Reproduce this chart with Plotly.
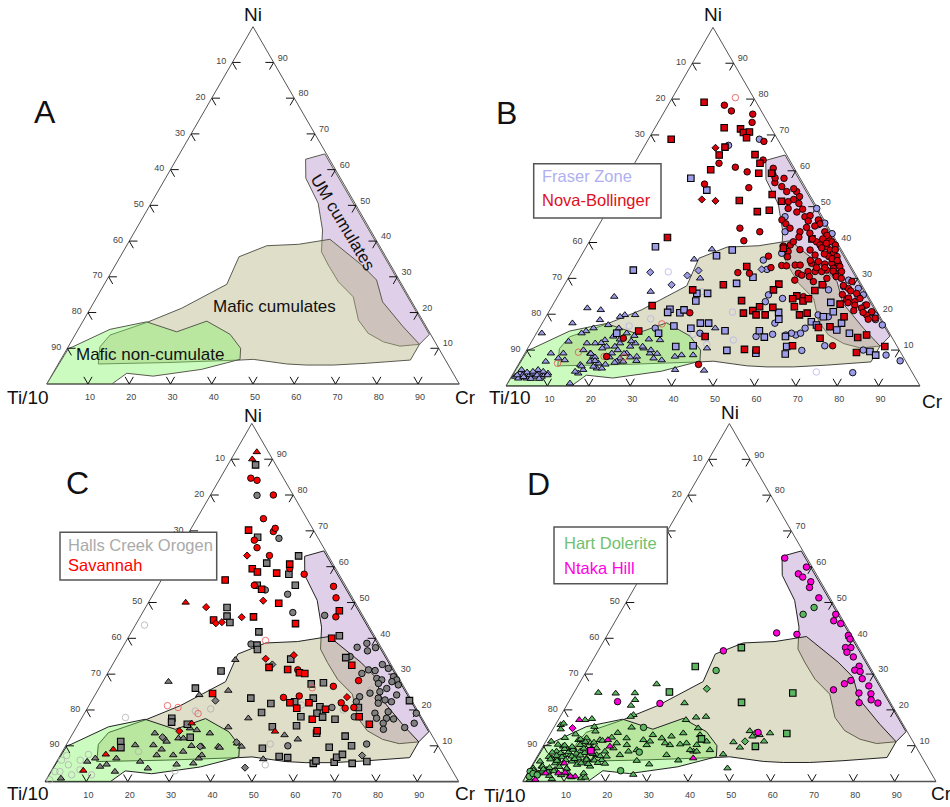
import plotly.graph_objects as go

W, H = 950, 807
TICKS = [10, 20, 30, 40, 50, 60, 70, 80, 90]

# Region polygons: Ni and Cr percentages (Ti/10 is the remainder)
um_ni = [64.4, 62.9, 57.6, 50.6, 43.1, 37, 33.3, 28.6, 24.4, 17.9, 14.2, 11.8, 10.6, 11.1, 13.9, 64.4]
um_cr = [35.2, 31.3, 34, 40.5, 45.3, 48.1, 51.6, 56.4, 62.1, 66.6, 70.8, 75.7, 80.3, 84.8, 85.8, 35.2]
mc_ni = [5.6, 10.4, 13.7, 17.2, 21.2, 27.9, 35.6, 38.7, 39.1, 40.5, 33.3, 29.1, 23, 16, 11.1, 6.7, 5.8, 5.3, 5.3, 5.6, 6.9, 6.7, 6, 5.6]
mc_cr = [9.7, 7.7, 8.5, 15.6, 22.1, 29.7, 28.8, 34, 41.5, 48.4, 59.7, 65.4, 69.9, 78.4, 84.8, 84.8, 74.6, 66.8, 60.4, 55.4, 46.6, 43.5, 26.1, 9.7]
nc_ni = [0, 10, 10.4, 15.3, 17.4, 14.6, 17.6, 13.9, 10, 6.9, 4.1, 2.2, 3, 0, 0]
nc_cr = [0, 0.3, 1.1, 7.7, 15.5, 24.2, 30, 37.5, 42, 43.4, 35.5, 24.7, 17.9, 15.8, 0]

# Panel B
b_red_circle_ni = [78.3,76.7,75.8,73.5,68.2,63,62.1,61,59.7,60.7,56.3,55.3,44,43,40.5,59.1,56.7,57.9,55.6,54.2,54.2,52.8,51.4,50.9,49.3,49.5,47.2,47.5,46.3,45.2,44.6,46.3,45.2,44,43,42.6,43,41.2,40.2,39.3,38.8,40.2,39.3,37.9,37,36.1,36.1,34.2,34.2,32.3,32.8,33.3,31.9,31.4,29.1,27.2,25.8,24,23.5,24.4,22.6,21.7,20.7,19.8,18.9,18.6,37.9,36.5,34.7,34.2,31.9,31.9,31.9,33.7,33.7,31.4,30.9,36.2,33.6,33,31.6,31.4,39.3,40.2,37.5,29.1,24.9,28.2,20.4,6,13.3,8.2,11.2,42,41,39.8,38.5,38,36.8,35.5,35,34,33,32,30.5,30,30,28,26.5,25.5,24.5,23.2,22.5,21,20.5,35,33,30.5,29.5,33.5,41.5,39,38,46,44.2,41,48.5,52,55,58,36]
b_red_circle_cr = [13.6,16.1,21.7,22.7,28.2,30.6,20.4,24.9,28.4,34.2,19.8,31,34.5,39.8,37.2,34.9,36.6,38.2,38.8,40.7,43.1,44.5,42.5,45.3,47,43.4,48.6,49.7,52.3,53.2,52.3,43.5,45,46.6,49.5,52.1,55.5,57.3,54.9,56.2,58.1,58.6,59.9,59.4,60.6,59.9,61.9,63.2,61.6,61.3,62.7,64,65.1,63.8,69,69.1,71.8,70.3,72.5,73.3,75.8,75,78,77.2,79.7,78.2,54.5,56.4,58.1,56.7,57,58.7,60.3,53,54.2,54.9,56,45.3,49.8,47.5,40.2,43.1,49,49.3,49.4,59.7,59.4,62.5,34.2,43.5,21.7,20.2,73.3,56.5,56,57.5,57,60.5,58.5,61,62.5,60,60.5,63,64.5,66,62.5,67.5,70,68.5,70.5,71,73,73.5,76,56,58.5,58,55,51,50,47.5,52,50,50.5,53.5,46,43.5,42,36,50]
b_red_square_ni = [79.1,72,71.7,70.7,70.8,69.2,68.8,66.6,64.4,64.5,62.1,60.3,59.3,59.3,53.4,51.7,48.6,49,51.5,41.4,38.4,33.3,28.2,28.4,26.8,28.2,26.6,25.1,24.3,23.7,24.3,26.8,23.8,22.4,22.1,21.9,22.1,20.3,21,19.8,19.8,19.8,20.3,22.8,19.3,16.3,16.5,14.2,13.5,13.3,11.2,10.2,10,9.3,11,13.8,15.3]
b_red_square_cr = [8.3,16.7,20.8,22,23.4,23.5,5.5,19.6,19.3,27.9,30.3,19.3,31.4,34.5,37.6,30.5,36.4,39.1,40.8,18.3,47.8,41.5,38.4,51.7,51.2,62.3,61.3,57.7,57.1,59.9,60.9,31.7,45,24.1,50.2,53.5,58.6,47.2,49.1,50.5,52.7,61,62.6,69.3,72,67.3,70,80,78.2,69.2,63.6,52.5,55.4,80,86,41.2,24.4]
b_blue_square_ni = [57.9,54.6,38.8,32.3,37.9,36.3,41,30.3,28.6,25.8,25.8,23.7,21.4,20.5,20.4,21.2,20.5,18.6,23.3,20.7,19.3,17.9,17,17.5,15.6,14.7,17.5,17.5,16.1,16.7,15.4,15.4,13.6,13.8,11,8.9,9.1,9.9,11,11.2,9.6,8.6,14.7,14.7]
b_blue_square_cr = [15.7,21.2,16.7,14.6,35.7,32.7,53.4,44.5,41.4,35.8,33.2,34,28.9,28.8,31.8,32.4,55.6,56.6,66.8,68.7,67,64.8,66.5,72.3,72.1,75.6,40.2,38.2,36.6,32.2,45.2,53.5,55.6,60.6,62.3,63,55.8,48.4,35.5,39.6,83.1,85,19.4,29.5]
b_blue_circle_ni = [68.8,67.1,49.5,45.4,42.6,47.2,43,37,35.1,32.5,24.4,25.4,23.5,17.5,14.4,13.8,14.2,14.2,14.7,16.1,14.7,9.9,11.2,3.7,7,8.6,10,17,19.8,25.4,27.2,27.7,26.8,19.8,19.3,16.1,14.7,33,29.5,25,22.5,20.5,18.5,45,38]
b_blue_circle_cr = [26.8,20.2,50.3,54.3,57.7,43.8,45.9,48.1,44.6,46.8,54.6,50.7,50.9,56.2,57.2,53.5,60.5,62.9,63.8,64.2,61.6,66.5,71.4,81.9,91.7,87.5,81.3,82.4,79.2,73.6,71.5,67.7,64.5,65.5,68.2,28,39.5,63.5,68,72.5,75.5,78,80,53,60.5]
b_blue_tri_ni = [24.9,21.7,21.2,26.3,35.3,19.8,19.8,19.3,18.4,17.5,17,14.7,15.3,16.1,12.4,9.1,6.8,2.6,3.5,3.1,2.1,2.1,3.1,2.6,3.5,2.6,3.1,4.5,3.5,3.5,4.5,0.7,9.1,7.2,7.7,5.9,4.5,3.5,4,6.8,8.2,6.3,4.9,9.1,11.9,10,14.7,11.9,12.8,11,9.1,11,11.9,7.7,9.1,11,11.9,8.2,10.5,9.1,7.7,7.2,12.8,13.8,14.7,16.1,8.2,8.6,8.6,4.5,4.3,10.5,4.9,5.4,6.8,6.8,38.1,30,16.1,12,10.5,9,8,7,5.5,6,8,10,13,9,6.5,11,8,7,12.5,10,9,14,13,3,2.5,3.8,4,2,3,2,4,3]
b_blue_tri_cr = [13.7,8.8,12.3,21.8,27.8,21.3,18.8,17.9,13.5,7.3,16.2,1.3,11.7,13.1,8.9,6.3,6.2,0.9,1.6,2.6,1.9,3.9,4.2,5.7,6.4,7.3,7.8,5.5,4.8,8.4,1.5,15.1,9.3,10.6,8.8,15,16.4,15.7,14.7,16.9,17,19.2,19.5,15.8,13.6,13.7,10.9,15.6,17.5,18.8,21,20.8,21.6,23.7,24.6,24.5,25.3,27.5,28,30.2,31.8,34,30.8,19,21.8,19.2,36.7,38.1,40.9,38.6,45.7,43.3,20.7,18.4,24.9,23.3,30.7,31.9,42.5,17,18,16,17.5,18,15.5,21,21,22,21,24,23,27.5,26,28,24,30,32,24,28,1.2,3,3.2,4.5,5,6,7,7,8.5]
b_blue_diamond_ni = [31.7,30.8,28.2,32.2,32.5]
b_blue_diamond_cr = [19,28.4,25.9,30.4,45.5]
b_blue_open_ni = [31.8,20.6,3.9,12.8,11.6,18.7,16.7,26.3,14.4]
b_blue_open_cr = [23.3,44.4,73,48.5,42.7,25.6,21.4,34.1,38]
b_red_open_ni = [80.4,17.3,9.4,6.3,8.2,8]
b_red_open_cr = [15.2,29,12.8,9.3,19.6,24.5]
b_red_diamond_ni = [66.4,52,51.6]
b_red_diamond_cr = [17.4,21.3,24.8]

# Panel C
c_red_circle_ni = [84.7,84.1,80,73.4,69.8,70.7,67.4,65.3,63.1,59.5,57.9,54.8,54.5,51.3,46,28.2,26.6,23.5,23.9,22,20.5,20.7,31.2]
c_red_circle_cr = [7.4,9.2,15.2,16.1,20.3,20.3,16.9,18.6,22.7,29.4,33.7,23.2,42.5,44.7,47.3,61.7,56.4,45.9,49.5,60.6,62.3,64.3,45.5]
c_red_square_ni = [70.2,56.3,59.4,58.5,58.2,60.7,53.7,49.8,46,45.1,44.1,47.7,40,32.5,31.9,31.3,30.4,30.2,24.6,22,20.5,22,20.2,17.4,14.2,18.1,16]
c_red_square_cr = [14.1,15.4,20.4,22.1,26.9,28.8,25.5,31.6,27.4,18.2,38.5,47.3,49.3,57.9,38.2,43,46.3,47.7,28.2,48.2,50.6,52.8,57.7,55.9,58.7,66.9,70.4]
c_gray_square_ni = [88.4,68.2,63,61,57.9,54.8,54.8,48.6,46.2,44.4,41.8,38.1,36.9,34.2,40.7,34.6,30.9,26.1,27.3,27.6,23.3,21.8,22.3,23.3,20.9,19.1,18,17.4,20.7,22.6,18.1,19.3,15.6,15.3,13.5,17.7,16.6,16,12.4,11.2,9.5,9.3,7,6.7,5.1,5.8,5.4,6.8,7.6,5.1,5.6,9.6,12.7,10]
c_gray_square_cr = [6.7,17.3,29.8,23.1,30,33.1,23.9,19.7,20.9,22.5,30.8,32.2,32.9,42.3,50.8,55.4,27.1,23.3,50.7,53.5,38.1,43.7,49.2,53.2,56,56.2,58.1,61.4,65.4,76.8,52.8,42.7,53,47.3,58.9,21.8,22.3,26.4,28.9,12.7,13.6,47.9,53.1,55.3,62.3,62.6,67.2,67.1,68.1,71.7,75,63.9,66.2,69.1]
c_gray_circle_ni = [79.9,67.9,53.5,52.3,47.2,38.4,46.4,37.5,38.6,37.4,36.5,34.9,32.7,31.6,31.2,31,30.2,28.8,28.4,29.3,28.4,27.9,27.4,26,27,24.7,25.1,23.7,23.3,22.8,22.3,24.2,21.9,22.3,18.1,19.1,19.5,17.7,17.7,17.5,16.3,14.6,15.1,16.3,19.1,20.7,10.5,10]
c_gray_circle_cr = [11.3,22.6,26.5,32.5,36.3,30.6,44.4,56.7,58.5,61.2,59.7,56.3,65.2,67.2,62.6,64.3,61.5,65.8,67.2,69.6,70.8,69.9,66.9,69.6,71.9,66.2,68.4,64.2,68.9,70.8,72.6,72.9,69.6,64.1,65.7,70.2,73.2,71.3,73.7,75.5,73.6,74.5,79.4,81.1,80.2,59,72.5,53.7]
c_gray_tri_ni = [27.9,34,25.4,24.2,17.7,15.2,13,11.8,6.3,10.7,9.8,13.5,9.8,9.8,14.9,14.4,13.5,12.1,12.1,10,10.2,10.2,9,11.2,7.4,7.4,8.4,6.5,7.4,4.8,5.1,3.7,2.8,5.6,6.5,5.6,6.5,4.2,4.8,0.9,9.5]
c_gray_tri_cr = [15.9,29,31.6,25.2,40.3,36.7,51.4,55.2,49.6,41.1,42.6,33.1,37,33,27.6,29.5,19.8,26.2,27.4,30.4,16.7,21.1,23.7,23.8,23.3,27.3,29.2,33.9,34.2,29.4,33.3,23,15.5,20.2,14,7.4,8.9,11.2,12.5,3.4,37.5]
c_gray_open_ni = [43.7,17.9,7.3,6,6,7.6,4.7,2.8,0.5,2.8,1.9,3.3,1.9,19.7,20.3,4.7,10.5,25.6,21.4,20,8.4,3]
c_gray_open_cr = [2.2,10.5,1.6,1,5.5,6.7,3.3,1,0.9,2.2,5.5,6.8,10.3,26.5,29.9,50.9,49.2,66,51.3,62.1,18.4,29.9]
c_red_open_ni = [39.4,21.2,20.7,19,26.2]
c_red_open_cr = [33.6,19,21.8,27.5,51.5]
c_red_tri_ni = [92,90,50,14,3.1,7.6,9,16.3]
c_red_tri_cr = [5.2,5.1,9,48.6,7.7,10.9,12,27.3]
c_red_diamond_ni = [63.1,48.7,45.9,44.2,44.5,50.5,34.3,35.3,23.6,14.1]
c_red_diamond_cr = [17.3,14.6,24.6,19.2,20.5,27.5,36.2,42.5,61.2,25.4]
c_gray_diamond_ni = [32.7,22.6,12.1,12.4,3.9,7.3,11,9.8]
c_gray_diamond_cr = [38.6,29.9,22.6,22.2,46.4,73,40.8,32.6]

# Panel D
d_mag_circle_ni = [62.4,59.9,58,57.1,55.8,54.2,51.3,46.7,44.9,44.1,40.8,39.8,37.4,37.4,36.1,34.8,32.2,31.1,30.7,28.7,28.2,27.3,26.7,25.6,24.5,24.7,22.8,22,21.9,41.5,41.1,36.5,21.8,22.3,13.7]
d_mag_circle_cr = [32.2,38.7,37.7,39.2,41.8,42.3,46,52.4,52.8,54.9,58.4,59.3,59.4,60.7,60.4,62.6,65.3,64.8,66.3,67.8,65.3,64.2,70.4,62.4,72,69,72.9,70.4,75,40.7,45.8,30.3,22.3,11.8,50.1]
d_mag_tri_ni = [17.2,11.6,9.8,6.5,5.1,2.3,2.3,2.5,1.4,0.5,1.4]
d_mag_tri_cr = [5.1,14.8,16.2,38,7.5,4.4,7.5,9,12,2.8,10.8]
d_mag_square_ni = [8.6]
d_mag_square_cr = [12.2]
d_mag_diamond_ni = [14.9]
d_mag_diamond_cr = [4.6]
d_green_circle_ni = [48.6,46.7,31,15.1,3,8.2,2.8,1.4,2.2,1.8]
d_green_circle_cr = [46.2,44.5,31.3,21.7,22.2,24.1,0.4,0.9,1.4,2.6]
d_green_square_ni = [37.4,32.1,25,22.1,24.7,13.4,9.8,11.9]
d_green_square_cr = [34.2,25.7,23,41.9,53,57.2,51.4,37.3]
d_green_diamond_ni = [25.9,11.2]
d_green_diamond_cr = [31.6,48.2]
d_green_tri_ni = [27.2,24.8,24.6,24.7,22.8,21.2,18.6,18.1,21.9,17.2,17.9,18.1,17.5,17.2,15.3,15.1,14.9,14.1,13.5,13,13.5,11.2,12.6,11,9.5,7.6,3.7,8.8,5.9,4.8,1.9,5.8,7.4,12.1,13,10.2,10.4,10.7,8.4,10.2,13,10.2,11.6,11.2,10.2,8.4,7.4,12.3,11.6,9.3,8.4,7.4,12.1,10.2,9.3,8.4,9.3,7.4,7.4,6.5,6.5,5.1,5.6,6.5,5.6,6,6,7,9.3,5.1,11.2,5.6,4.2,3.7,2.3,0.7,2.3,0.5,3.3,3.3,3.7,4.7,4.2,9.3,6.5,10.7,12.1,8.8,10.7,12.6,13.5,11.2,8.4,8.8,9.8,8.4,11.6,10.2,10.7,8.1,7.9,8.2,7.8,8,7.7,7.1,6.9,7.2,6.8,7,7.3,6.1,5.9,6.2,5.8,6,6.3,5.1,4.9,5.2,5,9.1,8.9,9.2,9,10.3,10.1,9.7,11.1,10.9,11.4,12.2,11.8,13.2,14,4.2,3.8,4.1,3.6,2.8,3.1,2.6,2.9,1.8,2.1,1.6,2.3,1.2,0.9,1.1,3.4,14.6,15.8,16.2,13.6]
d_green_tri_cr = [18.8,5.9,10.2,14.8,15.8,15.6,17.5,17.1,28.2,30.9,33,35.3,8,6.5,9.7,18.8,35,47.9,49.5,50.8,53.1,52.8,49.3,45.5,47.8,44.7,47.7,40.9,34.7,28.2,25.8,24.7,31.1,27.6,25,30.5,32.9,34.3,37.1,37,36.4,24.9,23.4,25.2,20.1,21.4,19.8,15.4,12.9,17.3,15.7,14.2,9.4,9.6,12,9.7,7.6,7.8,6.1,5,3.8,6.5,9.1,10.2,12.3,14.1,16.1,16.8,6,5.3,1.3,1.4,2.5,0.7,2.6,6.7,13.6,1.5,4.2,6.2,8.8,10.8,14.2,13.2,12.2,17.4,19.1,23.2,29.1,29.7,32.1,38.9,37.9,36.1,4.9,4,7.7,8.8,11,3.1,5.2,7,9.1,11,13.1,15.2,2.9,4.6,6.1,8.4,10.3,12.4,14.4,3.6,5.4,7.4,9.4,11.6,13.4,15.6,17.4,5.6,7.7,10.2,12.2,3.4,5.1,7.1,9.6,11.8,13.6,4.1,8.1,6.2,10.6,2.7,4.6,6.8,8.8,3.2,1.1,4.8,6.1,8.4,2.4,5.6,9.8,11.2,13.7,14.6,3.3,1.9,1.3,1.8,16.2,7.4,5.2,9.3,5.7]

BLUE, RED_B = "#9c9ce8", "#d8000c"
GRAY, RED_C = "#808080", "#ff0000"
GREEN, MAGENTA = "#5cb860", "#ff00d8"


def ti(ni, cr):
    return [max(0, round(100 - n - c, 2)) for n, c in zip(ni, cr)]


def region(ni, cr, fill, line, sub):
    return go.Scatterternary(a=ni, b=ti(ni, cr), c=cr, subplot=sub, mode="lines", fill="toself",
                             fillcolor=fill, line=dict(color=line, width=1), hoverinfo="skip", showlegend=False)


def series(ni, cr, symbol, color, sub):
    is_open = symbol.endswith("-open")
    size = {"square": 6.5, "diamond": 5.5, "triangle-up": 6.5}.get(symbol, 6.5)
    marker = dict(symbol=symbol, size=size, color=color,
                  line=dict(color=color if is_open else "#000000", width=0.8 if is_open else (1.1 if symbol == "square" else 0.9)))
    return go.Scatterternary(a=ni, b=ti(ni, cr), c=cr, subplot=sub, mode="markers", marker=marker,
                             cliponaxis=False, showlegend=False)


def tick_trace(sub, L=2.0):
    ni, cr = [], []
    for v in TICKS:
        # left edge, Ti/10 = v
        ni += [100 - v, 100 - v, None, 100 - v, 100 - v - L, None]
        cr += [0, L, None, 0, L, None]
        # right edge, Ni = v
        ni += [v, v, None, v, v - L, None]
        cr += [100 - v, 100 - v - L, None, 100 - v, 100 - v, None]
        # bottom edge, Cr = v
        ni += [0, L, None, 0, L, None]
        cr += [v, v, None, v, v - L, None]
    ti_vals = [None if n is None else max(0, round(100 - n - c, 3)) for n, c in zip(ni, cr)]
    return go.Scatterternary(a=ni, b=ti_vals, c=cr, subplot=sub, mode="lines",
                             line=dict(color="#111111", width=1), hoverinfo="skip", showlegend=False, cliponaxis=False)


fig = go.Figure()
PANELS = {"ternary": (46.7, 459.3, 26.7, 384), "ternary2": (506, 920, 27.3, 386),
          "ternary3": (45, 458.7, 423.3, 781.7), "ternary4": (522.7, 936, 423.3, 781.7)}
OUTLINE = {"ternary": "#5a5a50", "ternary2": "#4a4a44", "ternary3": "#222222", "ternary4": "#222222"}

for sub in PANELS:
    ol = OUTLINE[sub]
    fig.add_trace(region(um_ni, um_cr, "rgba(193,159,209,0.5)", ol, sub))
    fig.add_trace(region(mc_ni, mc_cr, "rgba(180,178,130,0.43)", ol, sub))
    fig.add_trace(region(nc_ni, nc_cr, "rgba(127,245,97,0.4)", ol, sub))
    fig.add_trace(tick_trace(sub))

for tr in [
    series(b_blue_open_ni, b_blue_open_cr, "circle-open", "#b4b4ec", "ternary2"),
    series(b_blue_tri_ni, b_blue_tri_cr, "triangle-up", BLUE, "ternary2"),
    series(b_blue_circle_ni, b_blue_circle_cr, "circle", BLUE, "ternary2"),
    series(b_blue_square_ni, b_blue_square_cr, "square", BLUE, "ternary2"),
    series(b_blue_diamond_ni, b_blue_diamond_cr, "diamond", BLUE, "ternary2"),
    series(b_red_open_ni, b_red_open_cr, "circle-open", "#e05050", "ternary2"),
    series(b_red_circle_ni, b_red_circle_cr, "circle", RED_B, "ternary2"),
    series(b_red_square_ni, b_red_square_cr, "square", RED_B, "ternary2"),
    series(b_red_diamond_ni, b_red_diamond_cr, "diamond", RED_B, "ternary2"),
    series(c_gray_open_ni, c_gray_open_cr, "circle-open", "#b0b0b0", "ternary3"),
    series(c_gray_tri_ni, c_gray_tri_cr, "triangle-up", GRAY, "ternary3"),
    series(c_gray_circle_ni, c_gray_circle_cr, "circle", GRAY, "ternary3"),
    series(c_gray_square_ni, c_gray_square_cr, "square", GRAY, "ternary3"),
    series(c_gray_diamond_ni, c_gray_diamond_cr, "diamond", GRAY, "ternary3"),
    series(c_red_open_ni, c_red_open_cr, "circle-open", "#f05050", "ternary3"),
    series(c_red_tri_ni, c_red_tri_cr, "triangle-up", RED_C, "ternary3"),
    series(c_red_circle_ni, c_red_circle_cr, "circle", RED_C, "ternary3"),
    series(c_red_square_ni, c_red_square_cr, "square", RED_C, "ternary3"),
    series(c_red_diamond_ni, c_red_diamond_cr, "diamond", RED_C, "ternary3"),
    series(d_green_tri_ni, d_green_tri_cr, "triangle-up", GREEN, "ternary4"),
    series(d_green_circle_ni, d_green_circle_cr, "circle", GREEN, "ternary4"),
    series(d_green_square_ni, d_green_square_cr, "square", GREEN, "ternary4"),
    series(d_green_diamond_ni, d_green_diamond_cr, "diamond", GREEN, "ternary4"),
    series(d_mag_tri_ni, d_mag_tri_cr, "triangle-up", MAGENTA, "ternary4"),
    series(d_mag_circle_ni, d_mag_circle_cr, "circle", MAGENTA, "ternary4"),
    series(d_mag_square_ni, d_mag_square_cr, "square", MAGENTA, "ternary4"),
    series(d_mag_diamond_ni, d_mag_diamond_cr, "diamond", MAGENTA, "ternary4"),
]:
    fig.add_trace(tr)

FONT = "Liberation Sans, Arial, sans-serif"


def axis(vals, labels, width=1.0):
    return dict(min=0, title=dict(text=""), tickmode="array", tickvals=vals, ticktext=labels, ticks="outside", ticklen=4,
                tickcolor="rgba(0,0,0,0)", tickfont=dict(size=9, color="#444444", family=FONT),
                linecolor="#555555", linewidth=width, showgrid=False, layer="below traces")


def ternary_layout(box):
    x0, x1, top, base = box
    desc = [100 - t for t in TICKS]
    return dict(sum=100, bgcolor="rgba(0,0,0,0)",
                domain=dict(x=[x0 / W, x1 / W], y=[1 - base / H, 1 - top / H]),
                # each edge is labelled with the component that varies along it in the original
                aaxis=axis(desc, [str(t) for t in TICKS]),
                baxis=axis(desc, [str(t) for t in TICKS], 1.6),
                caxis=axis(desc, [str(t) for t in TICKS]))


def note(text, x, y, size, color="#111111", anchor="center", angle=0):
    return dict(text=text, x=x / W, y=1 - y / H, xref="paper", yref="paper", showarrow=False, xanchor=anchor,
                yanchor="middle", textangle=angle, font=dict(size=size, color=color, family=FONT))


annotations = [
    note("Ni", 253, 15, 19), note("Ti/10", 28, 397, 19), note("Cr", 465, 397, 19),
    note("Ni", 713, 15, 19), note("Ti/10", 510, 397, 19), note("Cr", 932, 401, 19),
    note("Ni", 253, 416, 19), note("Ti/10", 28, 793, 19), note("Cr", 465, 793, 19),
    note("Ni", 730, 413, 19), note("Ti/10", 505, 795, 19), note("Cr", 941, 793, 19),
    note("A", 45, 112, 32), note("B", 506, 113, 32), note("C", 77, 483, 32), note("D", 538, 484, 32),
    note("Mafic cumulates", 274, 307, 17), note("Mafic non-cumulate", 150, 354, 17),
    note("UM cumulates", 343, 222, 17, angle=59),
    note("Fraser Zone", 540, 176, 16.5, "#b0b0f0", "left"), note("Nova-Bollinger", 540, 200, 16.5, "#e01020", "left"),
    note("Halls Creek Orogen", 66, 545, 16.5, "#aaaaaa", "left"), note("Savannah", 66, 565, 16.5, "#ff0000", "left"),
    note("Hart Dolerite", 561.7, 543, 16.5, "#70c070", "left"), note("Ntaka Hill", 561.7, 568, 16.5, "#ff00e0", "left"),
]


def box(x0, y0, x1, y1):
    return dict(type="rect", xref="paper", yref="paper", x0=x0 / W, x1=x1 / W, y0=1 - y0 / H, y1=1 - y1 / H,
                fillcolor="white", line=dict(color="#555555", width=1.5), layer="above")


fig.update_layout(
    width=W, height=H, autosize=False, margin=dict(l=0, r=0, t=0, b=0), paper_bgcolor="white",
    showlegend=False, font=dict(family=FONT),
    ternary=ternary_layout(PANELS["ternary"]), ternary2=ternary_layout(PANELS["ternary2"]),
    ternary3=ternary_layout(PANELS["ternary3"]), ternary4=ternary_layout(PANELS["ternary4"]),
    annotations=annotations,
    shapes=[box(533.7, 163.7, 661, 218), box(60, 532.3, 216.7, 580), box(554, 527, 667.3, 583.7)],
)

fig.write_html("out.html", config={"displayModeBar": False}, post_script="document.body.style.margin='0';")
